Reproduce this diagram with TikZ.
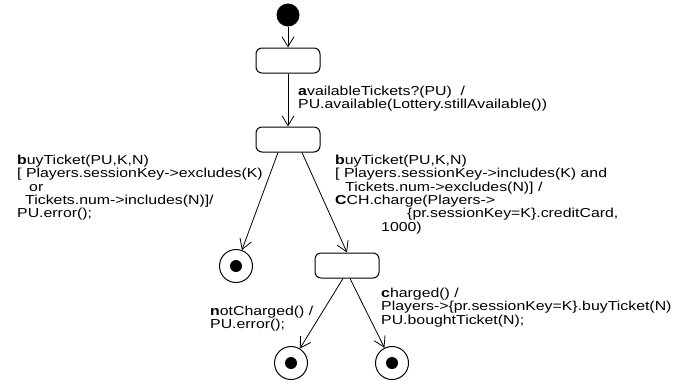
\documentclass[tikz,border=0pt]{standalone}
\usepackage{fontspec}
\setmainfont[FakeStretch=1.22]{Liberation Sans}
\usetikzlibrary{arrows.meta,calc}
\begin{document}
\begin{tikzpicture}[x=1pt,y=-1pt,
  state/.style={draw, rounded corners=6pt, minimum width=64pt, minimum height=25pt, line width=1pt, inner sep=0},
  initst/.style={circle, fill=black, minimum size=23pt, inner sep=0},
  finalst/.style={circle, draw, line width=1pt, minimum size=33pt, inner sep=0,
    path picture={\fill (path picture bounding box.center) circle (6pt);}},
  trans/.style={draw, line width=0.8pt, -{Straight Barb[length=10pt,width=12pt]}},
  lbl/.style={anchor=north west, inner sep=0, align=left, font=\fontsize{13}{13.3}\selectfont}
]
\useasboundingbox (0,0) rectangle (692,381);
\node[initst] (i) at (288,15) {};
\node[state] (b1) at (288,60.5) {};
\node[state] (b2) at (288,139.5) {};
\node[finalst] (f1) at (236,266) {};
\node[state] (b3) at (347,265.5) {};
\node[finalst] (f2) at (291,363) {};
\node[finalst] (f3) at (392,363) {};

\draw[trans] (i) -- (b1);
\draw[trans] (b1) -- (b2);
\draw[trans] ($(b2.south)+(-10,0)$) -- (f1);
\draw[trans] ($(b2.south)+(14,0)$) -- (b3.north);
\draw[trans] ($(b3.south)+(-4,0)$) -- (f2);
\draw[trans] ($(b3.south)+(3,0)$) -- (f3);

\node[lbl] (la) at (298,86) {\textbf{a}vailableTickets?(PU)\ \ /\\PU.available(Lottery.stillAvailable())};
\node[lbl] (ll) at (17,155) {\textbf{b}uyTicket(PU,K,N)\\{[} Players.sessionKey->excludes(K)\\\hspace*{12pt}or\\\hspace*{8pt}Tickets.num->includes(N)]/\\PU.error();};
\node[lbl] (lr) at (335,155) {\textbf{b}uyTicket(PU,K,N)\\{[} Players.sessionKey->includes(K) and\\\hspace*{10pt}Tickets.num->excludes(N)] /\\\textbf{C}CH.charge(Players->\\\hspace*{72pt}\{pr.sessionKey=K\}.creditCard,\\\hspace*{46pt}1000)};
\node[lbl] (ln) at (210,306) {\textbf{n}otCharged() /\\PU.error();};
\node[lbl] (lc) at (381,288) {\textbf{c}harged() /\\Players->\{pr.sessionKey=K\}.buyTicket(N)\\PU.boughtTicket(N);};
\end{tikzpicture}
\end{document}
